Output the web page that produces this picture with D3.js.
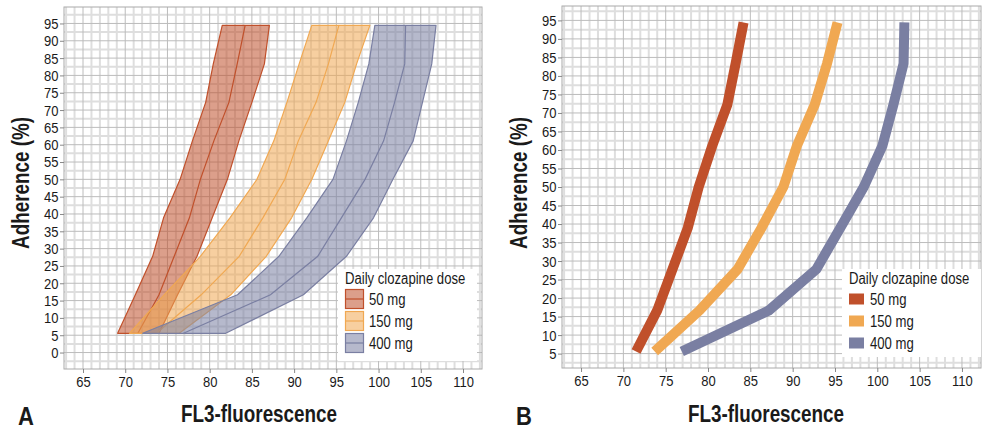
<!DOCTYPE html>
<html>
<head>
<meta charset="utf-8">
<script src="https://cdn.jsdelivr.net/npm/d3@7"></script>
<style>
  body { margin: 0; background: #fff; }
  svg { display: block; font-family: "Liberation Sans", Arial, sans-serif; }
</style>
</head>
<body>
<div id="chart"></div>
<script>
// adherence levels (y) shared by every curve
var adherence = [5.56, 16.67, 27.78, 38.89, 50, 61.11, 72.22, 83.33, 94.44];
var doses = ["50 mg", "150 mg", "400 mg"];

// FL3 values: lower bound, middle, upper bound per dose
var low50 = [69.1, 71.2, 73.25, 74.54, 76.5, 77.96, 79.53, 80.43, 81.49];
var mid50 = [71.5, 74.0, 75.8, 77.6, 78.9, 80.5, 82.28, 83.26, 84.2];
var up50 = [74.0, 76.2, 78.5, 80.3, 82.1, 83.46, 85.0, 86.48, 87.07];

var low150 = [70.5, 74.6, 78.9, 82.4, 85.6, 87.6, 89.15, 90.6, 92.09];
var mid150 = [73.7, 79.0, 83.5, 86.3, 88.9, 90.5, 92.6, 94.06, 95.3];
var up150 = [76.4, 82.5, 86.7, 89.7, 92.1, 94.06, 96.0, 97.4, 98.97];

var low400 = [72.07, 83.3, 88.2, 91.5, 94.6, 96.2, 97.6, 98.85, 99.56];
var mid400 = [76.9, 87.2, 92.8, 95.6, 98.4, 100.6, 101.9, 103.1, 103.2];
var up400 = [81.9, 91.1, 96.2, 99.4, 101.7, 104.1, 105.2, 106.3, 106.8];

var xTicks = [65, 70, 75, 80, 85, 90, 95, 100, 105, 110];
var yTicksA = [0, 5, 10, 15, 20, 25, 30, 35, 40, 45, 50, 55, 60, 65, 70, 75, 80, 85, 90, 95];
var yTicksB = [5, 10, 15, 20, 25, 30, 35, 40, 45, 50, 55, 60, 65, 70, 75, 80, 85, 90, 95];

var colors = ["#c0502b", "#f0a852", "#7a7fa2"];

var svgWidth = 983;
var svgHeight = 431;

var svg = d3.select("#chart")
  .append("svg")
  .attr("width", svgWidth)
  .attr("height", svgHeight);

var bands = [
  { low: low50, mid: mid50, up: up50 },
  { low: low150, mid: mid150, up: up150 },
  { low: low400, mid: mid400, up: up400 }
];

// condensed-looking text: squeeze horizontally around (x, y)
function label(parent, x, y, txt, size, k) {
  return parent.append("text")
    .attr("transform", `translate(${x}, ${y}) scale(${k}, 1)`)
    .style("font-size", size + "px")
    .attr("fill", "#1a1a1a")
    .text(txt);
}

function drawPanel(p) {
  var g = svg.append("g").attr("transform", `translate(${p.left}, ${p.top})`);

  var x = d3.scaleLinear().domain([62.75, 112.25]).range([0, p.width]);
  var y = d3.scaleLinear().domain(p.yDomain).range([p.height, 0]);

  // background + grid
  g.append("rect").attr("width", p.width).attr("height", p.height).attr("fill", "#fff");

  var xMinor = d3.range(63, 113, 1).filter(v => v % 5 != 0);
  var yMinor = d3.range(Math.ceil(p.yDomain[0] / 2.5) * 2.5, p.yDomain[1], 2.5).filter(v => v % 5 != 0);

  g.selectAll(".xminor").data(xMinor).enter().append("line")
    .attr("x1", d => x(d)).attr("x2", d => x(d))
    .attr("y1", 0).attr("y2", p.height)
    .attr("stroke", "#dedede").attr("stroke-width", 2);
  g.selectAll(".yminor").data(yMinor).enter().append("line")
    .attr("y1", d => y(d)).attr("y2", d => y(d))
    .attr("x1", 0).attr("x2", p.width)
    .attr("stroke", "#dedede").attr("stroke-width", 2);
  g.selectAll(".xmajor").data(xTicks).enter().append("line")
    .attr("x1", d => x(d)).attr("x2", d => x(d))
    .attr("y1", 0).attr("y2", p.height)
    .attr("stroke", "#bcbcbc").attr("stroke-width", 1);
  g.selectAll(".ymajor").data(p.yTicks).enter().append("line")
    .attr("y1", d => y(d)).attr("y2", d => y(d))
    .attr("x1", 0).attr("x2", p.width)
    .attr("stroke", "#bcbcbc").attr("stroke-width", 1);

  // data
  if (p.type == "band") {
    bands.forEach(function(b, i) {
      var area = d3.area()
        .y(d => y(d))
        .x0((d, j) => x(b.low[j]))
        .x1((d, j) => x(b.up[j]));
      g.append("path").datum(adherence)
        .attr("d", area)
        .attr("fill", colors[i]).attr("fill-opacity", 0.55)
        .attr("stroke", colors[i]).attr("stroke-width", 1.2)
        .attr("stroke-linejoin", "round");
      var line = d3.line().y(d => y(d)).x((d, j) => x(b.mid[j]));
      g.append("path").datum(adherence)
        .attr("d", line)
        .attr("fill", "none")
        .attr("stroke", colors[i]).attr("stroke-width", 1.2);
    });
  } else {
    bands.forEach(function(b, i) {
      var line = d3.line().y(d => y(d)).x((d, j) => x(b.mid[j]));
      g.append("path").datum(adherence)
        .attr("d", line)
        .attr("fill", "none")
        .attr("stroke", colors[i]).attr("stroke-width", 10)
        .attr("stroke-linejoin", "round");
    });
  }

  // border
  g.append("rect").attr("width", p.width).attr("height", p.height)
    .attr("fill", "none").attr("stroke", "#aaa").attr("stroke-width", 1);

  // axes
  var xAxis = g.append("g")
    .attr("transform", `translate(0, ${p.height})`)
    .call(d3.axisBottom(x).tickValues(xTicks).tickSize(4).tickPadding(3));
  var yAxis = g.append("g")
    .call(d3.axisLeft(y).tickValues(p.yTicks).tickSize(4).tickPadding(1.5));
  [xAxis, yAxis].forEach(function(a) {
    a.select(".domain").remove();
    a.selectAll(".tick line").attr("stroke", "#888");
    a.selectAll(".tick text").attr("fill", "#1a1a1a").style("font-size", "15.5px")
      .style("font-family", "inherit")
      .attr("transform", "scale(0.84, 1)")
      .attr("x", function() { return +d3.select(this).attr("x") / 0.84; });
  });

  // axis titles
  label(svg, p.xTitleX, 422, "FL3-fluorescence", 23, 0.82)
    .attr("text-anchor", "middle").style("font-weight", "bold");
  label(svg, p.left - 35, 183, "Adherence (%)", 23, 0.82)
    .attr("transform", `translate(${p.left - 35}, 183) rotate(-90) scale(0.82, 1)`)
    .attr("text-anchor", "middle").style("font-weight", "bold");
  label(svg, p.left - 46, 425, p.letter, 25, 0.88)
    .style("font-weight", "bold");

  // legend
  var lg = svg.append("g").attr("transform", `translate(${p.legendX}, 269)`);
  lg.append("rect").attr("width", p.legendW).attr("height", p.legendH).attr("fill", "#fff");
  label(lg, 7, 15, "Daily clozapine dose", 16, 0.82);
  doses.forEach(function(d, i) {
    var row = lg.append("g").attr("transform", `translate(7, ${30 + i * 22})`);
    if (p.type == "band") {
      row.append("rect").attr("x", 0.5).attr("y", -9.5).attr("width", 18).attr("height", 19)
        .attr("fill", colors[i]).attr("fill-opacity", 0.55)
        .attr("stroke", colors[i]).attr("stroke-width", 1.2);
      row.append("line").attr("x1", 0.5).attr("x2", 18.5).attr("y1", 0).attr("y2", 0)
        .attr("stroke", colors[i]).attr("stroke-width", 1.2);
    } else {
      row.append("rect").attr("x", 0).attr("y", -5.5).attr("width", 15).attr("height", 11)
        .attr("fill", colors[i]);
    }
    label(row, p.type == "band" ? 24 : 21, 5.5, d, 16, 0.82);
  });
}

drawPanel({
  type: "band", letter: "A",
  left: 64, top: 7, width: 418, height: 362,
  yDomain: [-4.75, 99.75], yTicks: yTicksA,
  xTitleX: 259, legendX: 338, legendW: 139, legendH: 92
});

drawPanel({
  type: "line", letter: "B",
  left: 562, top: 6, width: 419, height: 362,
  yDomain: [1.11, 98.89], yTicks: yTicksB,
  xTitleX: 766, legendX: 842, legendW: 139, legendH: 88
});
</script>
</body>
</html>
